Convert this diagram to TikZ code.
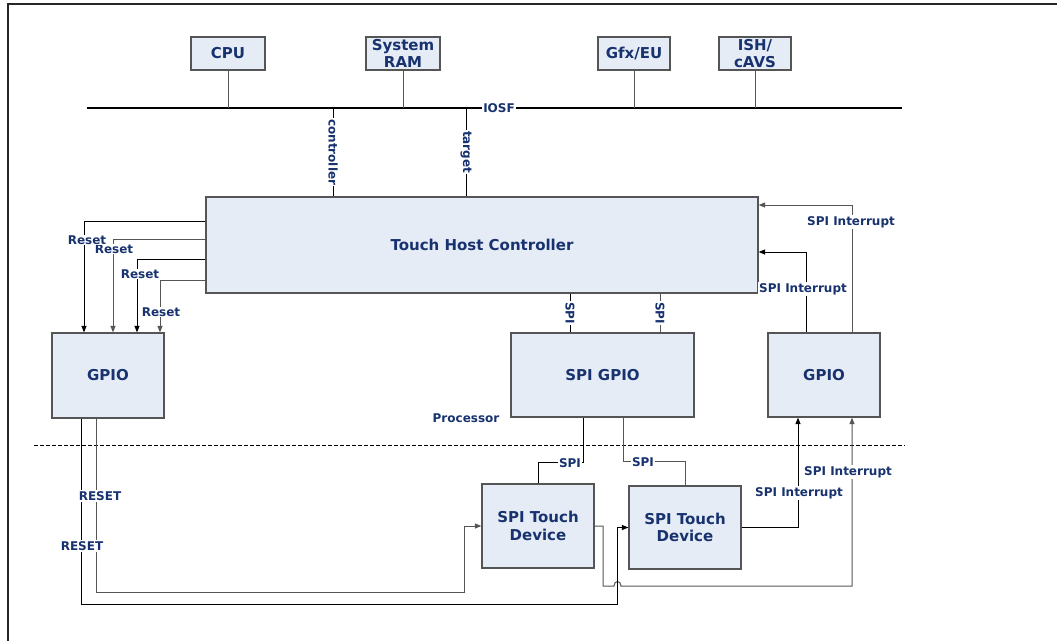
\documentclass[tikz,border=0pt]{standalone}
\usepackage{fontspec}
\setmainfont{DejaVu Sans}
\usetikzlibrary{arrows.meta,calc}
\definecolor{navy}{RGB}{23,50,110}
\definecolor{boxfill}{RGB}{230,236,246}
\definecolor{boxline}{RGB}{85,85,85}
\definecolor{wgrey}{RGB}{85,85,85}
\begin{document}
\begin{tikzpicture}[x=1pt,y=-1pt,
  blk/.style={draw=boxline,fill=boxfill,line width=1.2pt,inner sep=0pt,align=center,
    text=navy,font=\fontsize{15}{17.5}\selectfont\bfseries},
  lbl/.style={text=navy,font=\fontsize{12}{13}\selectfont\bfseries,inner sep=1pt},
  wlbl/.style={lbl,fill=white},
  wire/.style={line width=1pt,draw=black},
  gwire/.style={line width=1pt,draw=wgrey},
  arr/.style={-{Triangle[length=6.5pt,width=5pt]}}]
\useasboundingbox (0,0) rectangle (1057,641);
% frame
\draw[line width=1.4pt,draw=black!85] (8,641) -- (8,4) -- (1057,4);
% top boxes
\node[blk,minimum width=74pt,minimum height=33pt] (cpu) at (228,53.5) {CPU};
\node[blk,minimum width=74pt,minimum height=33pt] (ram) at (403,53.5) {System\\RAM};
\node[blk,minimum width=72pt,minimum height=33pt] (gfx) at (634,53.5) {Gfx/EU};
\node[blk,minimum width=72pt,minimum height=33pt] (ish) at (755,53.5) {ISH/\\cAVS};
% bus
\coordinate (busL) at (87,108);
\coordinate (busR) at (902,108);
\draw[line width=1.4pt] (busL) -- (busR);
\node[wlbl] (iosf) at (499,108) {IOSF};
\foreach \n in {cpu,ram,gfx,ish}{\draw[gwire] (\n.south) -- (\n.south |- busL);}
% THC
\node[blk,minimum width=552pt,minimum height=96pt] (thc) at (482,245) {Touch Host Controller};
\coordinate (ctrlx) at (333,108);
\coordinate (tgtx) at (466,108);
\draw[wire] (ctrlx) -- (ctrlx |- thc.north) node[midway,wlbl,rotate=-90] {controller};
\draw[wire] (tgtx) -- (tgtx |- thc.north) node[midway,wlbl,rotate=-90] {target};
% GPIO boxes
\node[blk,minimum width=112pt,minimum height=85pt] (gpioL) at (108,375.5) {GPIO};
\node[blk,minimum width=183pt,minimum height=84pt] (spigpio) at (602.5,375) {SPI GPIO};
\node[blk,minimum width=112pt,minimum height=84pt] (gpioR) at (824,375) {GPIO};
% touch devices
\node[blk,minimum width=112pt,minimum height=84pt] (td1) at (538,526) {SPI Touch\\Device};
\node[blk,minimum width=112pt,minimum height=83pt] (td2) at (685,527.5) {SPI Touch\\Device};
% resets
\draw[wire,arr] (thc.west |- 0,221) -| (gpioL.north -| 84,0);
\draw[gwire,arr] (thc.west |- 0,239) -| (gpioL.north -| 113,0);
\draw[wire,arr] (thc.west |- 0,259) -| (gpioL.north -| 137,0);
\draw[gwire,arr] (thc.west |- 0,280) -| (gpioL.north -| 160,0);
\node[wlbl] (rs2) at (114,249) {Reset};
\node[wlbl] (rs1) at (87,240) {Reset};
\node[wlbl] (rs3) at (140,274) {Reset};
\node[wlbl] (rs4) at (161,312) {Reset};
% SPI links THC - SPI GPIO
\draw[wire] (thc.south -| 570,0) -- (spigpio.north -| 570,0) node[midway,wlbl,rotate=-90] {SPI};
\draw[gwire] (thc.south -| 660,0) -- (spigpio.north -| 660,0) node[midway,wlbl,rotate=-90] {SPI};
% SPI interrupts to THC
\draw[wire,arr] (gpioR.north -| 806,0) |- (thc.east |- 0,252);
\draw[gwire,arr] (gpioR.north -| 852,0) |- (thc.east |- 0,205);
\node[wlbl] (si1) at (803,289) {SPI Interrupt};
\node[wlbl] (si2) at (851,222) {SPI Interrupt};
% processor label and divider
\node[lbl] (proc) at (466,418) {Processor};
\coordinate (dashL) at (34,445);
\coordinate (dashR) at (905,445);
\draw[line width=0.9pt,dash pattern=on 4pt off 2pt] (dashL) -- (dashR);
% SPI GPIO to touch devices
\draw[wire] (spigpio.south -| 583,0) |- ($(td1.north)+(0,-21)$) -- (td1.north);
\draw[gwire] (spigpio.south -| 623,0) |- ($(td2.north)+(0,-24)$) -- (td2.north);
\node[wlbl] (spi3) at (570,463) {SPI};
\node[wlbl] (spi4) at (643,462) {SPI};
% touch device interrupts
\draw[wire,arr] (td2.east) -| (gpioR.south -| 798,0);
\draw[gwire,arr] (td1.east) -- (603,526) -- (603,586) -- (614,586)
  .. controls (614,580) and (621,580) .. (621,586) -- (852,586) -- (gpioR.south -| 852,0);
\node[wlbl] (si3) at (848,472) {SPI Interrupt};
\node[wlbl] (si4) at (799,493) {SPI Interrupt};
% resets to touch devices
\draw[wire,arr] (gpioL.south -| 81,0) |- (617.5,604) |- (td2.west);
\draw[gwire,arr] (gpioL.south -| 96,0) |- (464,592) |- (td1.west);
\node[wlbl] (rst1) at (100,496) {RESET};
\node[wlbl] (rst2) at (82,546) {RESET};
\end{tikzpicture}
\end{document}
